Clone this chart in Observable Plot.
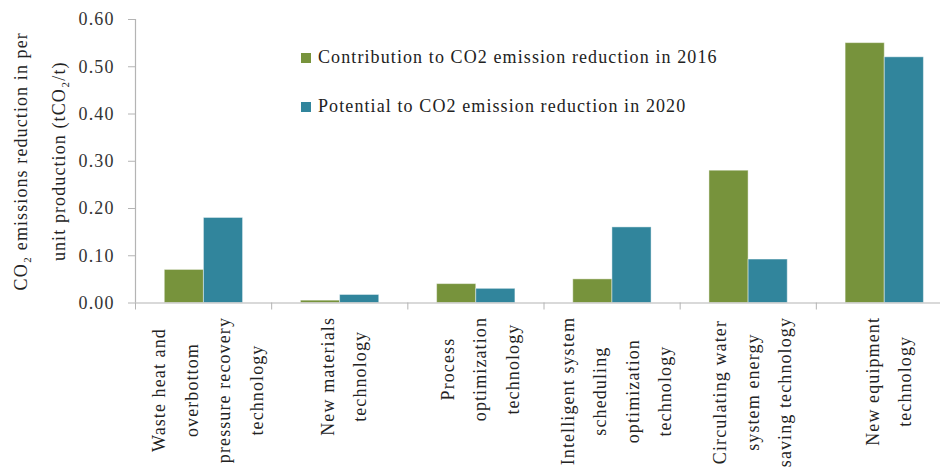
<!DOCTYPE html>
<html><head><meta charset="utf-8">
<script src="https://cdn.jsdelivr.net/npm/d3@7"></script>
<script src="https://cdn.jsdelivr.net/npm/@observablehq/plot@0.6"></script>
<style>
body{margin:0;background:#fff;}
#wrap{position:relative;width:940px;height:468px;font-family:"Liberation Serif",serif;}
#wrap svg text{letter-spacing:1.1px;}
#wrap svg text.ylab{letter-spacing:1.7px;}
.leg{position:absolute;left:301px;font-size:18px;letter-spacing:1.1px;color:#222;display:flex;align-items:center;white-space:nowrap;}
.sw{width:10px;height:10px;margin-right:7px;}
</style></head><body><div id="wrap"></div>
<script>
const categories = ["Waste heat and overbottom pressure recovery technology","New materials technology","Process optimization technology","Intelligent system scheduling optimization technology","Circulating water system energy saving technology","New equipment technology"];
const labelLines = [
  ["Waste heat and","overbottom","pressure recovery","technology"],
  ["New materials","technology"],
  ["Process","optimization","technology"],
  ["Intelligent system","scheduling","optimization","technology"],
  ["Circulating water","system energy","saving technology"],
  ["New equipment","technology"]
];
const series = ["Contribution to CO2 emission reduction in 2016","Potential to CO2 emission reduction in 2020"];
const values2016 = [0.07, 0.005, 0.04, 0.05, 0.28, 0.55];
const values2020 = [0.18, 0.017, 0.03, 0.16, 0.092, 0.52];
const yTicks = [0, 0.1, 0.2, 0.3, 0.4, 0.5, 0.6];
const yLabel = "CO\u2082 emissions reduction in per\nunit production (tCO\u2082/t)";
const colors = ["#77933C", "#31859C"];

const rows = [];
categories.forEach((c, i) => {
  rows.push({cat: c, i, s: 0, value: values2016[i]});
  rows.push({cat: c, i, s: 1, value: values2020[i]});
});
const barStart = [0.215, 0.5025], barEnd = [0.5025, 0.79];

const FS = 18, LS = 1.1;
const ctx = document.createElement("canvas").getContext("2d");
ctx.font = FS + "px 'Liberation Serif'";
const textWidth = s => ctx.measureText(s).width + LS * s.length;
const labelMarks = labelLines.map((lines, i) => {
  const maxLen = d3.max(lines, textWidth);
  return Plot.text([lines.join("\n")], {
    x: () => i + 0.5, y: () => 0, text: d => d,
    rotate: -90, textAnchor: "middle", lineAnchor: "middle",
    lineHeight: 1.8, dy: 14 + maxLen / 2, fontSize: FS, fill: "#222"
  });
});

const gray = "#b4b4b4";
const chart = Plot.plot({
  width: 940, height: 468,
  marginLeft: 135, marginRight: -12, marginTop: 19, marginBottom: 165.5,
  style: {fontFamily: "Liberation Serif", fontSize: FS + "px", background: "white", color: "#222"},
  x: {domain: [0, 6], axis: null},
  y: {domain: [0, 0.6], axis: null},
  marks: [
    Plot.rectY(rows, {
      x1: d => d.i + barStart[d.s], x2: d => d.i + barEnd[d.s],
      y1: 0, y2: d => d.value,
      fill: d => colors[d.s], stroke: "white", strokeOpacity: 0.45, strokeWidth: 1
    }),
    Plot.ruleY([0], {stroke: gray, strokeWidth: 1.2}),
    Plot.ruleX([0], {y1: 0, y2: 0.6, stroke: gray, strokeWidth: 1.2}),
    Plot.ruleY(yTicks, {x1: 0, x2: 0, insetLeft: -7, stroke: gray}),
    Plot.ruleX(d3.range(7), {y1: 0, y2: 0, insetBottom: -7, stroke: gray}),
    Plot.text(yTicks, {x: () => 0, y: d => d, text: d => d3.format(".2f")(d), textAnchor: "end", dx: -21, fontSize: FS, fill: "#333"}),
    Plot.text([yLabel], {frameAnchor: "left", text: d => d, rotate: -90, dx: -102, lineHeight: 2.15, textAnchor: "middle", fontSize: FS, fill: "#222", className: "ylab"}),
    ...labelMarks
  ]
});
const wrap = document.getElementById("wrap");
wrap.appendChild(chart);
series.forEach((s, k) => {
  const div = document.createElement("div");
  div.className = "leg";
  div.style.top = (k === 0 ? 47 : 96) + "px";
  div.innerHTML = `<span class="sw" style="background:${colors[k]}"></span><span>${s}</span>`;
  wrap.appendChild(div);
});
</script></body></html>
